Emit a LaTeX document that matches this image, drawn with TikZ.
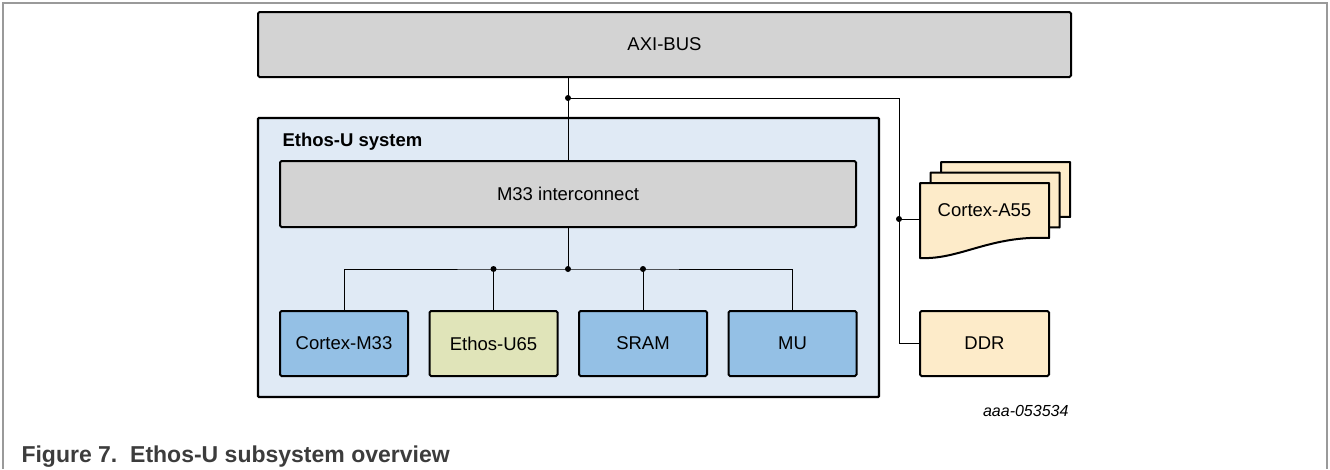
\documentclass[tikz,border=0pt]{standalone}
\usepackage{fontspec}
\setmainfont{Liberation Sans}
\usetikzlibrary{positioning}

\definecolor{busgray}{HTML}{D3D3D3}
\definecolor{sysblue}{HTML}{E0EAF5}
\definecolor{coreblue}{HTML}{94C0E5}
\definecolor{npugreen}{HTML}{E0E4B9}
\definecolor{extpeach}{HTML}{FDEBC9}
\definecolor{framegray}{HTML}{9A9A9A}
\definecolor{captiongray}{HTML}{3C3C3C}

\begin{document}
\begin{tikzpicture}[x=1pt, y=-1pt,
    bus/.style={rectangle, draw, line width=2pt, fill=busgray, rounded corners=1.5pt, inner sep=0pt, outer sep=0pt, text centered, font=\fontsize{18.5}{20}\selectfont},
    system/.style={rectangle, draw, line width=2.2pt, fill=sysblue, rounded corners=1pt, inner sep=0pt, outer sep=0pt},
    core/.style={rectangle, draw, line width=2pt, fill=coreblue, rounded corners=1.5pt, minimum width=128pt, minimum height=65pt, inner sep=0pt, outer sep=0pt, text centered, font=\fontsize{18.5}{20}\selectfont},
    npu/.style={core, fill=npugreen},
    ext/.style={core, fill=extpeach, minimum width=129pt},
    page/.style={draw, line width=2pt, fill=extpeach, line join=round},
    wire/.style={line width=1pt},
    joint/.style={fill=black}]

\useasboundingbox (0,0) rectangle (1330,469);

% Figure frame
\draw[framegray, line width=1.5pt] (3,469) -- (3,3) -- (1327,3) -- (1327,469);

% System bus
\node[bus, minimum width=813pt, minimum height=65pt] (axi) at (664.5,44.5) {AXI-BUS};

% Ethos-U system
\node[system, minimum width=621pt, minimum height=279pt] (ethos) at (568.5,257.5) {};
\node[anchor=base west, font=\bfseries\fontsize{18.5}{20}\selectfont] (syslabel) at (279,146.5) {Ethos-U system};
\node[bus, minimum width=576pt, minimum height=66pt] (m33ic) at (568,194) {M33 interconnect};

\node[core] (cm33) at (344,343.5) {Cortex-M33};
\node[npu, right=21.5pt of cm33] (u65) {Ethos-U65};
\node[core, right=21.5pt of u65] (sram) {SRAM};
\node[core, right=21.5pt of sram] (mu) {MU};

% External blocks
\foreach \d in {21,10.5,0}
  \draw[page, shift={(\d,-\d)}] (920,183) -- (1049,183) -- (1049,238)
    .. controls (990,235) and (960,260) .. (920,258) -- cycle;
\node[anchor=north west, minimum width=129pt, minimum height=55pt, inner sep=0pt, outer sep=0pt, font=\fontsize{18.5}{20}\selectfont] (a55) at (920,183) {Cortex-A55};
\node[ext] (ddr) at (984.5,343.5) {DDR};

% Connections
\coordinate (split) at (568,98);
\coordinate (ext) at (899,98);
\coordinate (tap) at (899,219);
\coordinate (fan) at (568,269);

\draw[wire] (axi.south -| m33ic.north) -- (m33ic.north);
\draw[wire] (split) -- (ext) |- (ddr.west);
\draw[wire] (tap) -- (tap -| a55.west);

\draw[wire] (m33ic.south) -- (fan);
\draw[wire] (cm33.north) |- (fan) -| (mu.north);
\draw[wire] (u65.north) -- (u65.north |- fan);
\draw[wire] (sram.north) -- (sram.north |- fan);

\foreach \p in {split, tap, fan}
  \fill[joint] (\p) circle (3pt);
\fill[joint] (u65.north |- fan) circle (3pt);
\fill[joint] (sram.north |- fan) circle (3pt);

% Labels
\node[anchor=base east, font=\itshape\fontsize{16}{18}\selectfont] (docid) at (1072,416) {aaa-053534};
\node[anchor=base west, text=captiongray, font=\bfseries\fontsize{23}{26}\selectfont] (caption) at (18,462) {Figure 7.\ \ Ethos-U subsystem overview};

\end{tikzpicture}
\end{document}
